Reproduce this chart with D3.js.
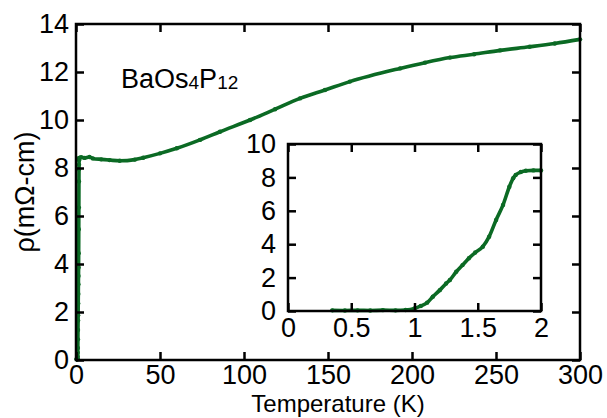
<!DOCTYPE html>
<html>
<head>
<meta charset="utf-8">
<script src="https://cdn.jsdelivr.net/npm/d3@7"></script>
<style>
  body { margin: 0; background: #fff; }
  svg { display: block; }
  text { font-family: "Liberation Sans", Arial, Helvetica, sans-serif; fill: #000; }
</style>
</head>
<body>
<svg id="chart" width="607" height="418"></svg>
<script>
// Low-temperature superconducting transition (K, mΩ-cm)
const lowT   = [0.35, 0.45, 0.55, 0.65, 0.75, 0.85, 0.93, 1.0, 1.05, 1.1, 1.145, 1.2, 1.25, 1.28, 1.33, 1.38, 1.43, 1.48, 1.54, 1.59, 1.645, 1.7, 1.75, 1.78, 1.8, 1.84, 1.88, 1.94, 2.0];
const lowRho = [0.04, 0.03, 0.04, 0.03, 0.05, 0.04, 0.06, 0.15, 0.3, 0.5, 0.86, 1.25, 1.65, 1.86, 2.35, 2.75, 3.16, 3.5, 3.85, 4.45, 5.45, 6.35, 7.44, 7.95, 8.14, 8.32, 8.4, 8.42, 8.42];

// Normal-state resistivity above 2 K
const highT   = [3, 5, 8, 10, 15, 20, 26, 35, 40, 50, 60, 73.8, 85.7, 103.6, 118.5, 133.3, 148.2, 163, 192.9, 207.7, 222.6, 237, 252.4, 270, 285, 300];
const highRho = [8.45, 8.42, 8.46, 8.4, 8.36, 8.33, 8.3, 8.35, 8.43, 8.61, 8.82, 9.17, 9.51, 10.0, 10.45, 10.9, 11.25, 11.6, 12.15, 12.39, 12.6, 12.74, 12.9, 13.05, 13.19, 13.36];

// Tick values
const mainXTicks  = [0, 50, 100, 150, 200, 250, 300];
const mainYTicks  = [0, 2, 4, 6, 8, 10, 12, 14];
const insetXTicks = [0, 0.5, 1, 1.5, 2];
const insetYTicks = [0, 2, 4, 6, 8, 10];

const lineColor = "#0b6a24";
const svg = d3.select("#chart");

function drawPanel(g, x, y, xTicks, yTicks, pads) {
  const [x0, x1] = x.range();
  const [y0, y1] = y.range();

  // inward ticks on all four sides, labels on bottom and left
  const bottom = d3.axisBottom(x).tickValues(xTicks).tickSizeInner(-8).tickSizeOuter(0)
    .tickPadding(pads.x).tickFormat(d3.format("~g"));
  const left = d3.axisLeft(y).tickValues(yTicks).tickSizeInner(-8).tickSizeOuter(0)
    .tickPadding(pads.y).tickFormat(d3.format("~g"));
  const top = d3.axisTop(x).tickValues(xTicks).tickSizeInner(-8).tickSizeOuter(0).tickFormat("");
  const right = d3.axisRight(y).tickValues(yTicks).tickSizeInner(-8).tickSizeOuter(0).tickFormat("");

  g.append("g").attr("transform", `translate(0,${y0})`).call(bottom);
  g.append("g").attr("transform", `translate(${x0},0)`).call(left);
  g.append("g").attr("transform", `translate(0,${y1})`).call(top);
  g.append("g").attr("transform", `translate(${x1},0)`).call(right);

  g.selectAll(".domain").remove();
  g.selectAll(".tick line").attr("stroke", "#000").attr("stroke-width", 2.5);
  g.selectAll(".tick text").attr("font-size", 27).attr("fill", "#000")
    .attr("font-family", '"Liberation Sans", Arial, sans-serif');

  g.append("rect")
    .attr("x", x0).attr("y", y1)
    .attr("width", x1 - x0).attr("height", y0 - y1)
    .attr("fill", "none").attr("stroke", "#000").attr("stroke-width", 2.5);
}

function drawCurve(g, x, y, ts, rs) {
  const pts = ts.map((t, i) => [x(t), y(rs[i])]);
  g.append("path")
    .attr("d", d3.line().curve(d3.curveMonotoneX)(pts))
    .attr("fill", "none")
    .attr("stroke", lineColor)
    .attr("stroke-width", 3.6)
    .attr("stroke-linejoin", "round")
    .attr("stroke-linecap", "round");
  g.selectAll(null).data(pts).enter().append("circle")
    .attr("cx", d => d[0]).attr("cy", d => d[1])
    .attr("r", 2.2).attr("fill", lineColor);
}

// ---- main panel ----
const x = d3.scaleLinear().domain([0, 300]).range([76, 580]);
const y = d3.scaleLinear().domain([0, 14]).range([360, 24]);
const gMain = svg.append("g");

drawCurve(gMain, x, y, lowT.concat(highT), lowRho.concat(highRho));
drawPanel(gMain, x, y, mainXTicks, mainYTicks, { x: 5, y: 7 });

// compound label
const compound = svg.append("text").attr("x", 121).attr("y", 88).attr("font-size", 27);
compound.append("tspan").text("BaOs");
compound.append("tspan").attr("font-size", 19).attr("dy", 1).text("4");
compound.append("tspan").attr("dy", -1).text("P");
compound.append("tspan").attr("font-size", 19).attr("dy", 1).text("12");

// axis titles
svg.append("text")
  .attr("x", 338).attr("y", 412)
  .attr("text-anchor", "middle").attr("font-size", 24)
  .text("Temperature (K)");

svg.append("text")
  .attr("transform", "translate(34,192) rotate(-90)")
  .attr("text-anchor", "middle").attr("font-size", 27)
  .text("ρ(mΩ-cm)");

// ---- inset ----
const xi = d3.scaleLinear().domain([0, 2]).range([288, 541]);
const yi = d3.scaleLinear().domain([0, 10]).range([311, 144]);
const gInset = svg.append("g");
gInset.append("rect")
  .attr("x", 288).attr("y", 144).attr("width", 253).attr("height", 167)
  .attr("fill", "#fff");
drawCurve(gInset, xi, yi, lowT, lowRho);
drawPanel(gInset, xi, yi, insetXTicks, insetYTicks, { x: 7, y: 12 });
</script>
</body>
</html>
